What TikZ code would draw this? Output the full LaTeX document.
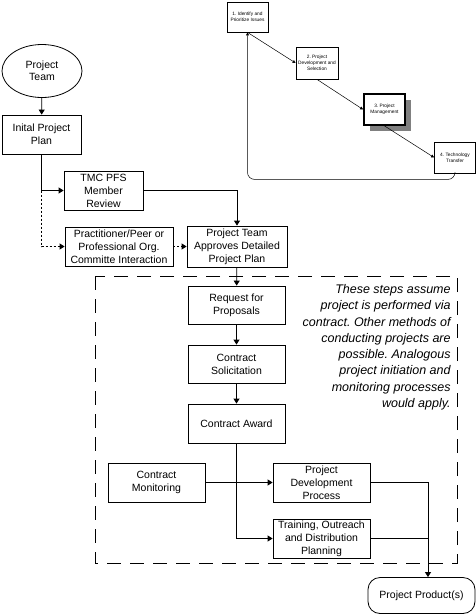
\documentclass[tikz,border=0pt]{standalone}
\usepackage{fontspec}
\setmainfont{Liberation Sans}
\usetikzlibrary{arrows.meta,shapes.geometric}
\frenchspacing

\begin{document}
\begin{tikzpicture}[x=1pt, y=-1pt, line width=0.8pt,
	box/.style={draw, inner sep=0pt, align=center, font=\fontsize{10.5}{13}\selectfont},
	tiny/.style={draw, inner sep=0pt, align=center, font=\fontsize{4.8}{5.8}\selectfont},
	arrow/.style={-{Triangle[length=5pt, width=6pt]}},
	small arrow/.style={line width=0.5pt, -{Triangle[length=3pt, width=3pt]}},
	peer line/.style={dash pattern=on 2pt off 2pt}]
		%%%%% START %%%%%
		\useasboundingbox (0, 0) rectangle (476, 614);
		
		% top right: the overall process
		\node[tiny, minimum width=41, minimum height=30] (issues) at (247.5, 17) {1. Identify and\\Prioritize Issues};
		\node[tiny, minimum width=42, minimum height=32] (select) at (317, 63) {2. Project\\Development and\\Selection};
		\fill[black!50] (370, 100) rectangle (411, 131);
		\node[tiny, fill=white, line width=1.8pt, minimum width=41, minimum height=31] (manage) at (384.5, 109.5) {3. Project\\Management};
		\node[tiny, minimum width=41, minimum height=31] (transfer) at (455, 157.5) {4. Technology\\Transfer};
		
		\draw[small arrow] (issues.south) -- (select.west);
		\draw[small arrow] (select.south) -- (manage.west);
		\draw[small arrow] (manage.south) -- (transfer.west);
		\draw[small arrow, rounded corners=7pt] (transfer.south) -- ++(0, 6) -| (issues.south);
		
		% left: planning
		\node[draw, ellipse, inner sep=0pt, minimum width=80, minimum height=53, align=center, font=\fontsize{10.5}{12}\selectfont] (team) at (42, 71) {Project\\Team};
		\node[box, minimum width=79, minimum height=39] (plan) at (41.5, 134.5) {Inital Project\\Plan};
		\node[box, minimum width=79, minimum height=39] (review) at (103.5, 190.5) {TMC PFS\\Member\\Review};
		\node[box, minimum width=108, minimum height=39] (peer) at (119, 246.5) {Practitioner/Peer or\\Professional Org.\\Committe Interaction};
		\node[box, minimum width=100, minimum height=41] (approve) at (237, 246.5) {Project Team\\Approves Detailed\\Project Plan};
		
		\draw[arrow] (team) -- (plan);
		\draw[arrow] (plan.south) |- (review.west);
		\draw[arrow, peer line] (plan.south |- review.west) |- (peer.west);
		\draw[arrow, peer line] (peer) -- (approve);
		\draw[arrow] (review.east) -| (approve.north);
		
		% dashed frame: contract steps
		\draw[dash pattern=on 14pt off 9pt] (95, 276) rectangle (457, 563);
		\node[anchor=north east, inner sep=0pt, align=right, font=\fontsize{12.5}{16.3}\selectfont\itshape] (note) at (451, 284) {These steps assume\\project is performed via\\contract. Other methods of\\conducting projects are\\possible. Analogous\\project initiation and\\monitoring processes\\would apply.};
		
		\node[box, minimum width=97, minimum height=38] (rfp) at (236.5, 305) {Request for\\Proposals};
		\node[box, minimum width=97, minimum height=38] (solicit) at (236.5, 364) {Contract\\Solicitation};
		\node[box, minimum width=97, minimum height=39] (award) at (236.5, 423.5) {Contract Award};
		\node[box, minimum width=97, minimum height=39] (monitor) at (156.5, 482.5) {Contract\\Monitoring};
		\node[box, minimum width=97, minimum height=39] (develop) at (321.5, 482.5) {Project\\Development\\Process};
		\node[box, minimum width=97, minimum height=39] (train) at (321.5, 538.5) {Training, Outreach\\and Distribution\\Planning};
		
		\draw[arrow] (approve) -- (rfp);
		\draw[arrow] (rfp) -- (solicit);
		\draw[arrow] (solicit) -- (award);
		\draw[arrow] (award.south) |- (train.west);
		\draw[arrow] (monitor) -- (develop);
		
		% output
		\node[draw, rounded corners=12pt, inner sep=0pt, minimum width=107, minimum height=36, font=\fontsize{10.5}{13}\selectfont] (product) at (421.5, 595.5) {Project Product(s)};
		\coordinate (merge) at (428, 538.5);
		\draw (develop.east) -| (merge);
		\draw (train.east) -- (merge);
		\draw[arrow] (merge) -- (merge |- product.north);
		%%%%% END %%%%%
\end{tikzpicture}
\end{document}
